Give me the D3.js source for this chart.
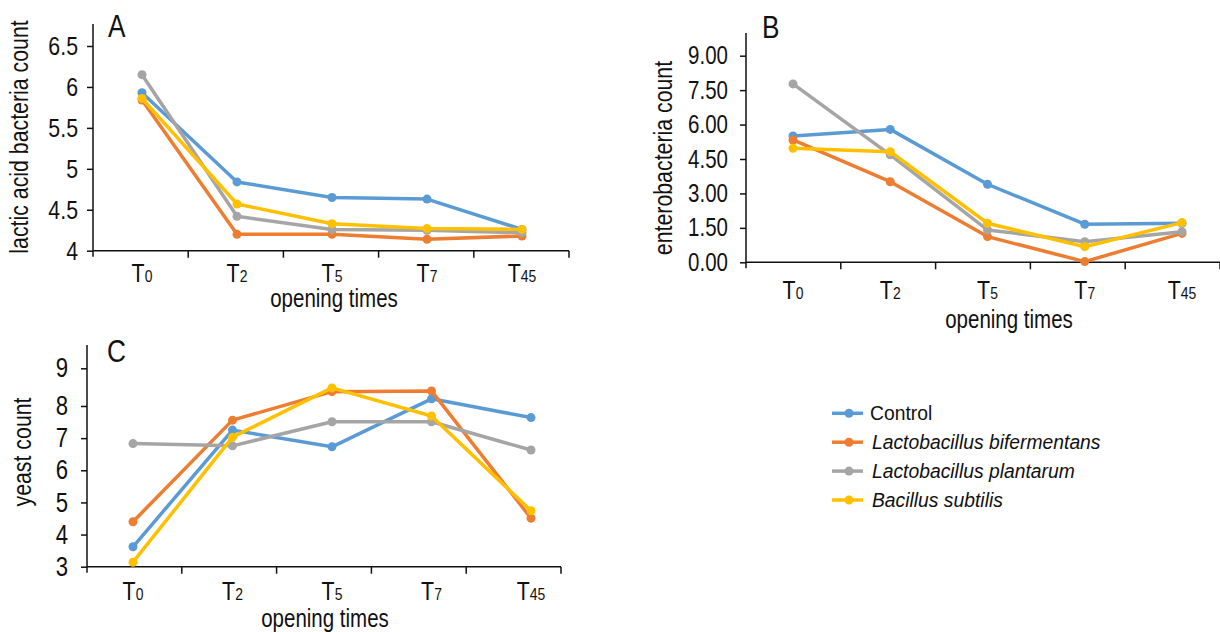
<!DOCTYPE html>
<html>
<head>
<meta charset="utf-8">
<script src="https://cdn.jsdelivr.net/npm/d3@7"></script>
<style>
  body { margin: 0; background: #fff; }
  svg text { font-family: "Liberation Sans", Arial, sans-serif; fill: #111; }
</style>
</head>
<body>
<svg id="chart" width="1220" height="632"></svg>
<script>
// categories
const times = ["T0", "T2", "T5", "T7", "T45"];
const seriesNames = ["Control", "Lactobacillus bifermentans", "Lactobacillus plantarum", "Bacillus subtilis"];

// A: lactic acid bacteria
const labControl      = [5.93, 4.84, 4.65, 4.63, 4.26];
const labBifermentans = [5.84, 4.20, 4.20, 4.14, 4.18];
const labPlantarum    = [6.15, 4.42, 4.26, 4.25, 4.22];
const labSubtilis     = [5.86, 4.57, 4.33, 4.27, 4.26];

// B: enterobacteria
const entControl      = [5.50, 5.79, 3.40, 1.66, 1.70];
const entBifermentans = [5.33, 3.51, 1.12, 0.03, 1.26];
const entPlantarum    = [7.77, 4.68, 1.41, 0.90, 1.33];
const entSubtilis     = [4.97, 4.82, 1.70, 0.68, 1.73];

// C: yeast
const yeaControl      = [3.62, 7.25, 6.73, 8.19, 7.64];
const yeaBifermentans = [4.40, 7.56, 8.38, 8.40, 4.51];
const yeaPlantarum    = [6.83, 6.76, 7.51, 7.51, 6.63];
const yeaSubtilis     = [3.14, 7.03, 8.48, 7.69, 4.74];

// tick labels
const labTicks = [4, 4.5, 5, 5.5, 6, 6.5];
const entTicks = [0, 1.5, 3, 4.5, 6, 7.5, 9];
const yeaTicks = [3, 4, 5, 6, 7, 8, 9];

const colors = ["#5b9bd5", "#ed7d31", "#a5a5a5", "#ffc000"];
const K = 0.82; // condensed lettering

let svg = d3.select("#chart");

// squeeze text horizontally around its own anchor
function squeeze(sel, rot, k) {
  k = k || K;
  sel.each(function() {
    let t = d3.select(this);
    let x = +t.attr("x") || 0, y = +t.attr("y") || 0;
    t.attr("x", 0).attr("y", 0)
     .attr("transform", `translate(${x},${y})${rot ? " rotate(-90)" : ""} scale(${k},1)`);
  });
}

let panels = [
  { letter: "A", series: [labControl, labBifermentans, labPlantarum, labSubtilis],
    ticks: labTicks, fmt: d => String(d), title: "lactic acid bacteria count",
    ax0: 93, ax1: 569, p0: 142, p1: 522, yTop: 24, tickFont: 26,
    yDomain: [4, 6.5], yRange: [250.7, 46], pad: 9,
    titleX: 28, titleY: 137, letterX: 108, letterY: 37,
    tLabelY: 282, xTitleX: 334, xTitleY: 307 },
  { letter: "B", series: [entControl, entBifermentans, entPlantarum, entSubtilis],
    ticks: entTicks, fmt: d3.format(".2f"), title: "enterobacteria count",
    ax0: 746, ax1: 1220, p0: 793, p1: 1182, yTop: 33, tickFont: 25,
    yDomain: [0, 9], yRange: [262.3, 55.7], pad: 12,
    titleX: 672, titleY: 158, letterX: 762, letterY: 38,
    tLabelY: 299, xTitleX: 1009, xTitleY: 328 },
  { letter: "C", series: [yeaControl, yeaBifermentans, yeaPlantarum, yeaSubtilis],
    ticks: yeaTicks, fmt: d => String(d), title: "yeast count",
    ax0: 87, ax1: 561, p0: 133, p1: 531, yTop: 345, tickFont: 27,
    yDomain: [3, 8, 9], yRange: [566.7, 406, 368.3], pad: 13,
    titleX: 31, titleY: 452, letterX: 107, letterY: 362,
    tLabelY: 600, xTitleX: 325, xTitleY: 627 }
];

panels.forEach(p => {
  let g = svg.append("g");
  let y = d3.scaleLinear().domain(p.yDomain).range(p.yRange);
  let x = d3.scalePoint().domain(times).range([p.p0, p.p1]);
  let xTick = d3.scaleBand().domain(times).range([p.ax0, p.ax1]);
  let base = y(p.yDomain[0]);

  // y axis
  let yAxis = d3.axisLeft(y).tickValues(p.ticks).tickFormat(p.fmt)
    .tickSize(6).tickSizeOuter(0).tickPadding(p.pad);
  let ya = g.append("g").attr("transform", `translate(${p.ax0},0)`).call(yAxis);
  ya.select(".domain").remove();
  ya.selectAll("line").attr("stroke", "#111").attr("stroke-width", 1.5);
  ya.selectAll("text").attr("font-size", p.tickFont).attr("fill", "#111")
    .style("font-family", "Liberation Sans, Arial, sans-serif");
  squeeze(ya.selectAll("text"));

  g.append("line").attr("x1", p.ax0).attr("x2", p.ax0)
    .attr("y1", p.yTop).attr("y2", base + 6)
    .attr("stroke", "#111").attr("stroke-width", 1.5);

  // x axis line and ticks between categories
  g.append("line").attr("x1", p.ax0).attr("x2", p.ax1)
    .attr("y1", base).attr("y2", base)
    .attr("stroke", "#111").attr("stroke-width", 1.5);
  let tickPos = times.slice(1).map(d => xTick(d)).concat([p.ax1]);
  g.selectAll(".xtick").data(tickPos).enter().append("line")
    .attr("x1", d => d).attr("x2", d => d)
    .attr("y1", base).attr("y2", base + 7)
    .attr("stroke", "#111").attr("stroke-width", 1.5);

  // category labels with subscript
  let lab = g.selectAll(".tlab").data(times).enter().append("text")
    .attr("x", d => x(d)).attr("y", p.tLabelY)
    .attr("text-anchor", "middle");
  lab.append("tspan").attr("font-size", 26).text("T");
  lab.append("tspan").attr("font-size", 17).text(d => d.slice(1));
  squeeze(lab);

  // titles
  let xt = g.append("text").attr("x", p.xTitleX).attr("y", p.xTitleY)
    .attr("text-anchor", "middle").attr("font-size", 25).text("opening times");
  squeeze(xt);
  let yt = g.append("text").attr("x", p.titleX).attr("y", p.titleY)
    .attr("text-anchor", "middle").attr("font-size", 26).text(p.title);
  squeeze(yt, true);
  let lt = g.append("text").attr("x", p.letterX).attr("y", p.letterY)
    .attr("font-size", 32).text(p.letter);
  squeeze(lt);

  // series
  let line = d3.line().x((d, i) => x(times[i])).y(d => y(d));
  p.series.forEach((s, k) => {
    g.append("path").datum(s).attr("d", line)
      .attr("fill", "none").attr("stroke", colors[k])
      .attr("stroke-width", 3.5).attr("stroke-linejoin", "round");
    g.selectAll(null).data(s).enter().append("circle")
      .attr("cx", (d, i) => x(times[i])).attr("cy", d => y(d))
      .attr("r", 4.5).attr("fill", colors[k]);
  });
});

// legend
let legY = d3.scalePoint().domain(seriesNames).range([413.3, 500]);
let leg = svg.append("g").selectAll("g").data(seriesNames).enter().append("g")
  .attr("transform", d => `translate(0,${legY(d)})`);
leg.append("line").attr("x1", 832).attr("x2", 863)
  .attr("stroke", (d, i) => colors[i]).attr("stroke-width", 3.5);
leg.append("circle").attr("cx", 849).attr("r", 4.5).attr("fill", (d, i) => colors[i]);
let lgt = leg.append("text").attr("x", (d, i) => i ? 872 : 870).attr("y", 7)
  .attr("font-size", 21).attr("font-style", (d, i) => i ? "italic" : "normal")
  .text(d => d);
squeeze(lgt, false, 0.92);
</script>
</body>
</html>
